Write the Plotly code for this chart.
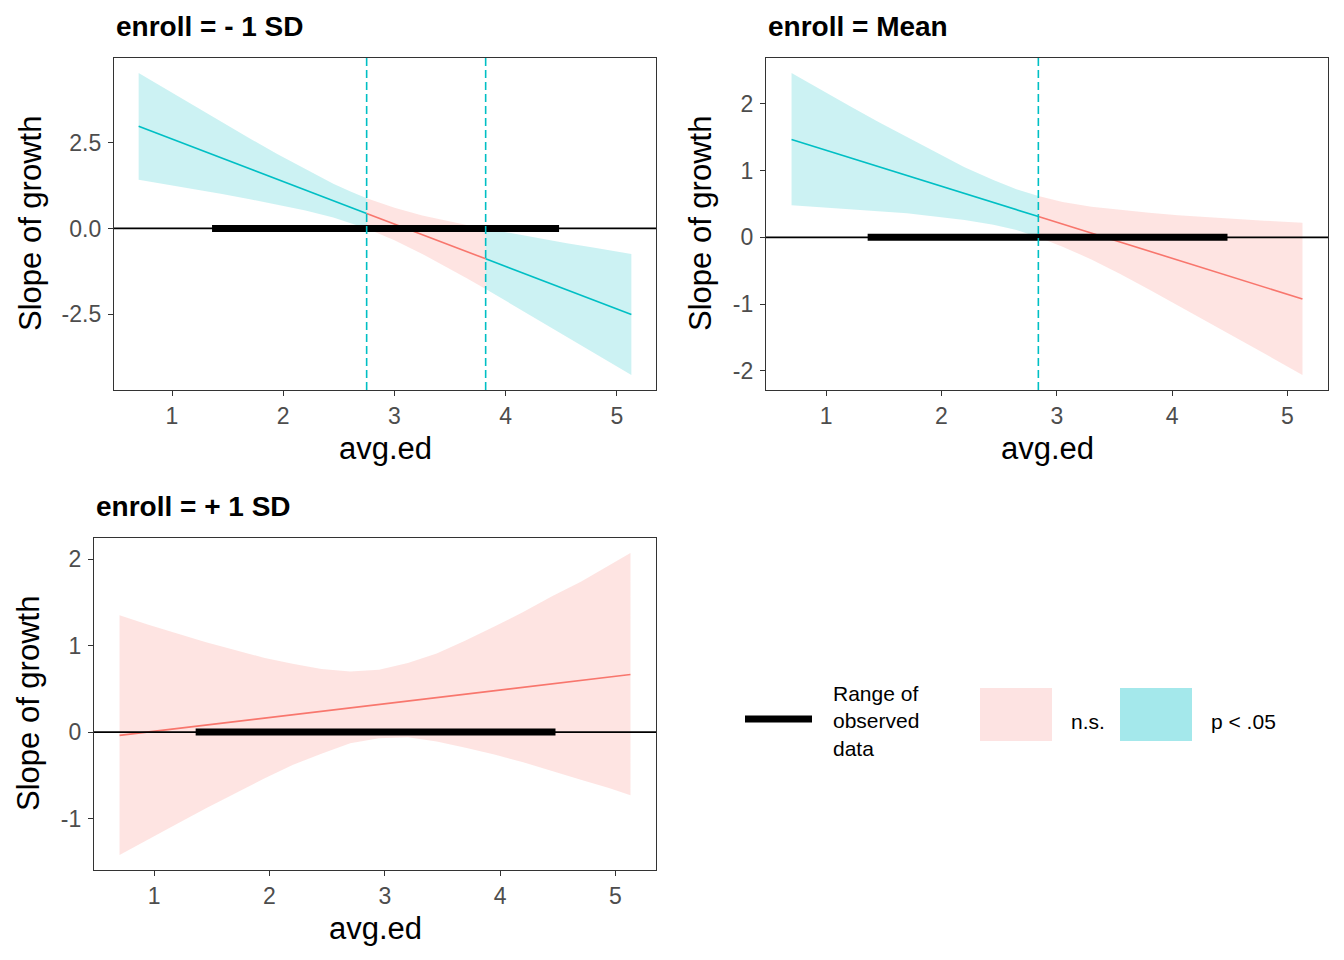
import plotly.graph_objects as go

# ---- data ----
# panel 1: enroll = - 1 SD
x1 = [0.70, 0.95, 1.20, 1.45, 1.70, 1.95, 2.20, 2.45, 2.60, 2.75,
      3.00, 3.25, 3.50, 3.65, 3.82, 4.05, 4.30, 4.55, 4.80, 5.13]
est1 = [2.970, 2.661, 2.353, 2.044, 1.735, 1.426, 1.118, 0.809, 0.624, 0.438,
        0.130, -0.179, -0.488, -0.673, -0.883, -1.167, -1.476, -1.785, -2.094, -2.501]
lo1 = [1.42, 1.28, 1.15, 1.00, 0.85, 0.69, 0.52, 0.32, 0.17, 0.00,
       -0.34, -0.74, -1.18, -1.45, -1.76, -2.19, -2.67, -3.15, -3.63, -4.26]
hi1 = [4.52, 4.04, 3.56, 3.09, 2.62, 2.16, 1.72, 1.30, 1.08, 0.88,
       0.60, 0.38, 0.20, 0.10, 0.00, -0.14, -0.29, -0.43, -0.56, -0.74]
jn1 = [2.75, 3.82]
sig1 = [True, False, True]

# panel 2: enroll = Mean
x2 = [0.70, 0.95, 1.20, 1.45, 1.70, 1.95, 2.20, 2.45, 2.65, 2.84,
      3.05, 3.30, 3.55, 3.80, 4.05, 4.30, 4.55, 4.80, 5.13]
est2 = [1.465, 1.330, 1.196, 1.061, 0.926, 0.791, 0.657, 0.522, 0.414, 0.312,
        0.198, 0.064, -0.071, -0.206, -0.341, -0.475, -0.610, -0.745, -0.923]
lo2 = [0.48, 0.45, 0.42, 0.39, 0.36, 0.31, 0.26, 0.19, 0.11, 0.00,
       -0.14, -0.33, -0.55, -0.78, -1.02, -1.25, -1.50, -1.74, -2.06]
hi2 = [2.46, 2.21, 1.97, 1.73, 1.50, 1.27, 1.05, 0.86, 0.72, 0.62,
       0.53, 0.46, 0.41, 0.37, 0.33, 0.30, 0.28, 0.25, 0.22]
jn2 = [2.84]
sig2 = [True, False]

# panel 3: enroll = + 1 SD
x3 = [0.70, 0.95, 1.20, 1.45, 1.70, 1.95, 2.20, 2.45, 2.70, 2.95,
      3.20, 3.45, 3.70, 3.95, 4.20, 4.45, 4.70, 4.95, 5.13]
est3 = [-0.038, 0.002, 0.042, 0.081, 0.121, 0.161, 0.201, 0.240, 0.280, 0.320,
        0.360, 0.399, 0.439, 0.479, 0.519, 0.558, 0.598, 0.638, 0.666]
lo3 = [-1.42, -1.24, -1.06, -0.88, -0.71, -0.54, -0.38, -0.25, -0.13, -0.07,
       -0.06, -0.11, -0.18, -0.26, -0.35, -0.45, -0.55, -0.65, -0.73]
hi3 = [1.35, 1.24, 1.14, 1.04, 0.95, 0.86, 0.79, 0.73, 0.70, 0.72,
       0.80, 0.91, 1.06, 1.22, 1.39, 1.57, 1.74, 1.93, 2.07]
jn3 = []
sig3 = [False]

obs_range = [1.36, 4.48]  # range of observed avg.ed

titles = ["enroll = - 1 SD", "enroll = Mean", "enroll = + 1 SD"]
xticks = [1, 2, 3, 4, 5]
yticks1 = [-2.5, 0, 2.5]
ylabels1 = ["-2.5", "0.0", "2.5"]
yticks2 = [-2, -1, 0, 1, 2]
yticks3 = [-1, 0, 1, 2]

W, H = 1344, 960
CYAN, PINK = "#00BFC4", "#F8766D"
CYAN_F, PINK_F = "rgba(0,191,196,0.2)", "rgba(248,118,109,0.2)"
FONT = "Liberation Sans, Arial, sans-serif"

# pixel boxes of each panel: left, right, top, bottom
boxes = [(114, 656, 58, 390), (766, 1328, 58, 390), (94, 656, 538, 870)]
ytitle_x = [30, 700, 28]  # centre of the rotated y titles


def px(x):
    return x / W


def py(y):
    return 1 - y / H


panels = [
    (x1, est1, lo1, hi1, jn1, sig1, yticks1, ylabels1),
    (x2, est2, lo2, hi2, jn2, sig2, yticks2, [str(v) for v in yticks2]),
    (x3, est3, lo3, hi3, jn3, sig3, yticks3, [str(v) for v in yticks3]),
]

fig = go.Figure()
shapes = []
annotations = []
layout_axes = {}

for i, (xs, est, lo, hi, jn, sig, yt, yl) in enumerate(panels):
    n = "" if i == 0 else str(i + 1)
    xa, ya = "x" + n, "y" + n
    edges = [xs[0]] + jn + [xs[-1]]
    for s in range(len(edges) - 1):
        idx = [k for k, v in enumerate(xs) if edges[s] <= v <= edges[s + 1]]
        sx = [xs[k] for k in idx]
        col, fcol = (CYAN, CYAN_F) if sig[s] else (PINK, PINK_F)
        fig.add_trace(go.Scatter(
            x=sx + sx[::-1], y=[hi[k] for k in idx] + [lo[k] for k in idx][::-1],
            fill="toself", fillcolor=fcol, line=dict(width=0), mode="lines",
            hoverinfo="skip", showlegend=False, xaxis=xa, yaxis=ya))
        fig.add_trace(go.Scatter(
            x=sx, y=[est[k] for k in idx], mode="lines",
            line=dict(color=col, width=1.6), showlegend=False, xaxis=xa, yaxis=ya))

    # ggplot-like 5% expansion
    xlo, xhi = xs[0], xs[-1]
    dx = (xhi - xlo) * 0.05
    ymin, ymax = min(lo + [0]), max(hi + [0])
    dy = (ymax - ymin) * 0.05
    l, r, t, b = boxes[i]
    common = dict(showline=True, linecolor="#333333", linewidth=1.3, mirror=True,
                  ticks="outside", ticklen=5, tickwidth=1.3, tickcolor="#333333",
                  showgrid=False, zeroline=False,
                  tickfont=dict(family=FONT, size=23, color="#4D4D4D"))
    layout_axes["xaxis" + n] = dict(common, domain=[px(l), px(r)], anchor=ya,
                                    range=[xlo - dx, xhi + dx], tickvals=xticks,
                                    ticklabelstandoff=0)
    layout_axes["yaxis" + n] = dict(common, domain=[py(b), py(t)], anchor=xa,
                                    range=[ymin - dy, ymax + dy], tickvals=yt,
                                    ticktext=yl, ticklabelstandoff=2)

    # zero line, observed-data bar, JN dashed lines
    shapes.append(dict(type="line", xref=xa + " domain", yref=ya, x0=0, x1=1, y0=0, y1=0,
                       line=dict(color="black", width=1.8)))
    shapes.append(dict(type="line", xref=xa, yref=ya, x0=obs_range[0], x1=obs_range[1],
                       y0=0, y1=0, line=dict(color="black", width=7)))
    for v in jn:
        shapes.append(dict(type="line", xref=xa, yref=ya + " domain", x0=v, x1=v, y0=0, y1=1,
                           line=dict(color=CYAN, width=1.6, dash="8px,4px")))

    annotations.append(dict(text="<b>" + titles[i] + "</b>", x=px(l), y=py(t - 31),
                            xref="paper", yref="paper", xanchor="left", yanchor="middle",
                            showarrow=False, font=dict(family=FONT, size=28, color="black")))
    annotations.append(dict(text="avg.ed", x=px((l + r) / 2), y=py(b + 58),
                            xref="paper", yref="paper", xanchor="center", yanchor="middle",
                            showarrow=False, font=dict(family=FONT, size=31, color="black")))
    annotations.append(dict(text="Slope of growth", x=px(ytitle_x[i]), y=py((t + b) / 2),
                            xref="paper", yref="paper", xanchor="center", yanchor="middle",
                            textangle=-90, showarrow=False,
                            font=dict(family=FONT, size=31, color="black")))

# legend built by hand
shapes.append(dict(type="line", xref="paper", yref="paper", x0=px(745), x1=px(812),
                   y0=py(719), y1=py(719), line=dict(color="black", width=7)))
shapes.append(dict(type="rect", xref="paper", yref="paper", x0=px(980), x1=px(1052),
                   y0=py(741), y1=py(688), fillcolor="#FDE3E2", line=dict(width=0)))
shapes.append(dict(type="rect", xref="paper", yref="paper", x0=px(1120), x1=px(1192),
                   y0=py(741), y1=py(688), fillcolor="#A4E8EB", line=dict(width=0)))
legend_text = [("Range of<br>observed<br>data", 831), ("n.s.", 1069), ("p < .05", 1209)]
for txt, lx in legend_text:
    annotations.append(dict(text=txt, x=px(lx), y=py(721), xref="paper", yref="paper",
                            xanchor="left", yanchor="middle", align="left", showarrow=False,
                            font=dict(family=FONT, size=21, color="black")))

fig.update_layout(width=W, height=H, margin=dict(l=0, r=0, t=0, b=0),
                  paper_bgcolor="white", plot_bgcolor="white",
                  shapes=shapes, annotations=annotations, showlegend=False,
                  **layout_axes)

# drop the default 8px page margin so the figure sits at the window corner
fig.write_html("out.html", config={"displayModeBar": False},
               post_script="document.body.style.margin='0';")
